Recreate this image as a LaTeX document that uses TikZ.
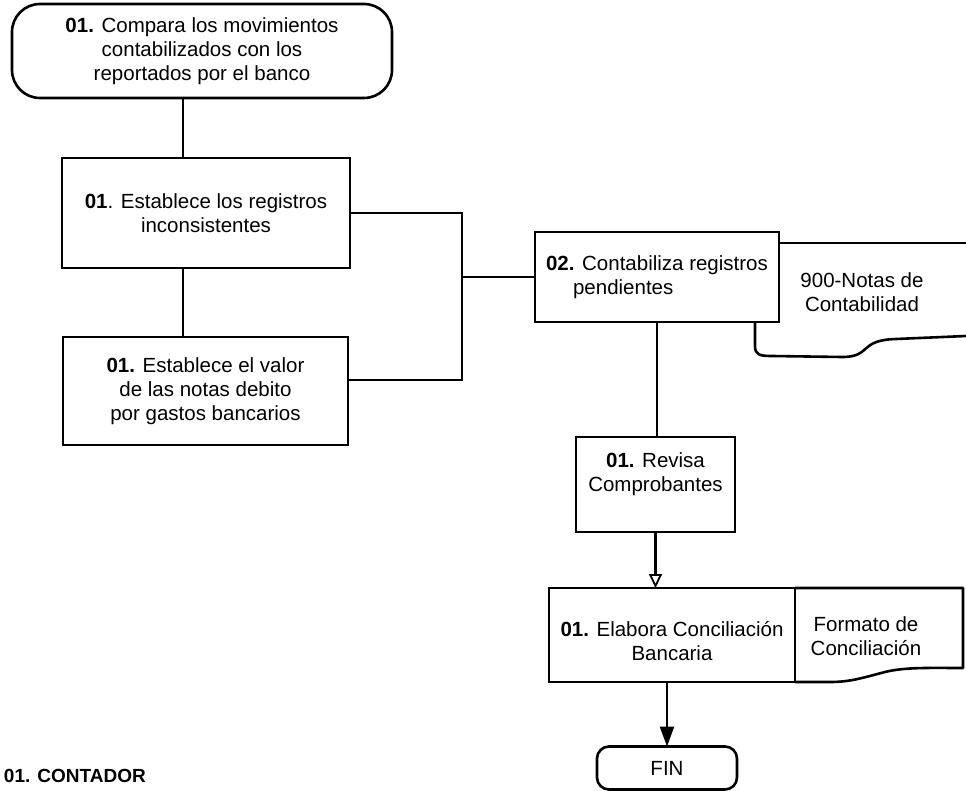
\documentclass[tikz,border=0pt]{standalone}
\usepackage{fontspec}
\setmainfont{Liberation Sans}
\usetikzlibrary{arrows.meta,calc}
\begin{document}
\begin{tikzpicture}[x=1pt,y=-1pt,
  line width=2.6pt,
  every node/.style={font=\fontsize{20.5}{24}\selectfont, inner sep=0pt, outer sep=0pt},
  procbox/.style={draw, line width=2.6pt, align=center},
  termbox/.style={draw, line width=2.6pt, align=center, rounded corners=#1},
  txt/.style={align=center},
  openhead/.style={-{Triangle[open, length=14pt, width=13pt, line width=1.8pt]}},
  solidhead/.style={-{Triangle[length=20pt, width=14pt]}},
  docline/.style={line width=2.6pt, line join=round}
]
\useasboundingbox (0,0) rectangle (966,791);

% start terminal
\node[termbox=28pt, minimum width=380pt, minimum height=94pt] (start) at (202,51)
  {\textbf{01.} Compara los movimientos\\contabilizados con los\\reportados por el banco};

% left column
\node[procbox, minimum width=288pt, minimum height=110pt] (b1) at (206,213)
  {\textbf{01}. Establece los registros\\inconsistentes};
\node[procbox, minimum width=285pt, minimum height=108pt] (b2) at (205.5,391)
  {\textbf{01.} Establece el valor\\de las notas debito\\por gastos bancarios};

% right column
\node[procbox, minimum width=244pt, minimum height=90pt, align=left] (b3) at (657,277)
  {\textbf{02.} Contabiliza registros\\\hspace*{27pt}pendientes};
\node[procbox, minimum width=159pt, minimum height=95pt] (b4) at (655.5,484.5) {};
\node[txt] (t4) at ([yshift=10pt]b4.center) {\textbf{01.} Revisa\\Comprobantes};
\node[procbox, minimum width=246pt, minimum height=94pt] (b5) at (672,635) {};
\node[txt] (t5) at ([yshift=-6pt]b5.center) {\textbf{01.} Elabora Conciliación\\Bancaria};
\node[termbox=12pt, minimum width=140pt, minimum height=43pt] (fin) at (667,768) {FIN};

% document: 900-Notas de Contabilidad
\coordinate (nTop) at (966,243);
\draw[docline] ([yshift=-11pt]b3.north east) -- (nTop);
\draw[docline] ([xshift=-24pt]b3.south east) -- ++(0,24)
  .. controls ++(0,9) and (760,356) .. (772,356)
  -- (842,357) .. controls (872,357) and (858,340) .. (896,339)
  -- (966,336);
\node[txt] (notas) at (862,292) {900-Notas de\\Contabilidad};

% document: Formato de Conciliacion
\coordinate (fTR) at (963,588);
\draw[docline] (b5.north east) -- (b5.north east -| fTR) -- (963,668)
  .. controls (930,668) and (905,667) .. (885,672)
  .. controls (862,678) and (850,682) .. (830,682) -- (b5.south east);
\node[txt] (formato) at (866,636) {Formato de\\Conciliación};

% connectors
\coordinate (jbot) at (462,380);
\draw ([xshift=-19pt]start.south) -- ([xshift=-23pt]b1.north);
\draw ([xshift=-23pt]b1.south) -- ([xshift=-22.5pt]b2.north);
\draw (b1.east) -| (jbot) -- (jbot -| b2.east);
\draw (b3.west -| jbot) -- (b3.west);
\draw (b3.south) -- (b3.south |- b4.north);
\draw[openhead] (b4.south) -- (b4.south |- b5.north);
\draw[solidhead] (fin.north |- b5.south) -- (fin.north);

% lane label
\node[anchor=base west, font=\fontsize{19}{22}\selectfont\bfseries] (lane) at (4,782) {01. CONTADOR};
\end{tikzpicture}
\end{document}
